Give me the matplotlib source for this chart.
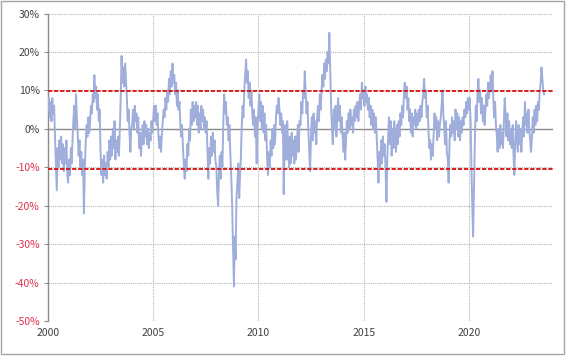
import numpy as np
import pandas as pd
import matplotlib
matplotlib.use("Agg")
import matplotlib.pyplot as plt
import matplotlib.dates as mdates
from matplotlib.patches import Rectangle
from matplotlib.ticker import FuncFormatter
from datetime import datetime

plt.rcParams['font.family'] = ['Noto Sans CJK JP', 'DejaVu Sans']

# values (%), two points per month
r2000_2003 = [
    5, 8, 3, 7, 2, 8, 4, 6, -2, -8, -16, -5, -10, -3, -8, -2, -9, -4, -11, -5, -9, -3, -12, -14,
    -8, -12, -5, -9, -3, 2, 6, 0, 9, 3, -2, -7, -3, -10, -6, -12, -8, -22, -10, -4, 1, -2, 3, -1,
    2, 6, 4, 9, 7, 14, 8, 11, 5, 9, 2, 5, -6, -12, -8, -14, -7, -12, -9, -13, -6, -10, -3, -8,
    -2, -7, 0, -5, 2, -8, -3, -6, -2, -7, 0, 8, 19, 12, 16, 11, 17, 13, 8, 2, 5, -1, -6, 0,
]
r2004_2007 = [
    1, 5, 0, 6, 2, 4, -1, 3, -5, -1, -7, -3, 1, -4, 2, -2, 1, -4, 0, -5, -1, -3, 2, -1,
    3, 6, 2, 6, 1, 4, -2, -5, -2, -6, -1, 2, 5, 3, 8, 5, 10, 7, 13, 9, 15, 11, 17, 12,
    14, 9, 12, 6, 10, 5, 7, 1, -2, 1, -5, -9, -13, -8, -11, -4, -7, 0, -3, 5, 1, 7, 2, 6,
    3, 7, 1, 6, -1, 4, 0, 6, 2, 5, 0, 3, -1, 2, -6, -13, -5, -9, -2, -7, -1, -6, -3, -8,
]
r2008_2011 = [
    -10, -16, -20, -12, -7, -13, -6, -10, 2, 9, 4, 7, 1, 3, -3, 1, -7, -12, -20, -30, -41, -28, -34, -18,
    -14, -9, -18, -12, -8, 0, 6, 3, 10, 14, 18, 12, 15, 8, 12, 6, 10, 4, 1, 5, -2, 3, -9, 1,
    5, 9, 2, 7, 0, 6, -1, 4, -3, 1, -8, -12, -6, -10, -3, -7, 0, -5, 1, -4, 3, 6, 4, 8,
    5, 1, 4, -1, 2, -17, -5, 1, -8, 2, -4, -10, -2, -9, -1, -7, -3, -9, -2, -8, -3, 1, -6, 2,
]
r2012_2015 = [
    1, 7, 4, 10, 8, 15, 9, 4, 7, 0, -6, -11, -2, 3, -3, 4, -1, 2, -4, 3, 6, 2, 9, 5,
    10, 14, 11, 17, 13, 18, 15, 20, 17, 25, 14, 6, 0, -4, 5, 0, 6, -2, 4, 8, 2, 6, -1, 3,
    -2, -6, -1, -8, -3, 2, -1, 4, 0, 5, 1, 3, -1, 5, 2, 6, 3, 7, 2, 6, 9, 5, 12, 8,
    10, 6, 11, 7, 9, 5, 8, 3, 6, 1, 5, 0, 4, -1, 3, -2, -8, -14, -6, -10, -3, -9, -2, -7,
]
r2016_2019 = [
    -4, -10, -19, -8, -2, 3, -4, 2, -7, 0, -5, 2, -3, -6, 1, -4, 2, -2, 4, 1, 6, 3, 9, 12,
    8, 11, 5, 8, 2, 5, -1, 4, -2, 3, 1, 5, 0, 4, 1, 5, 2, 6, 3, 7, 9, 13, 8, 10,
    3, 6, -1, -5, -3, -8, -4, -7, -1, 4, 0, 3, -3, 2, -2, 1, 3, 6, 10, 4, 0, -4, 2, -6,
    -8, -14, -3, 1, -2, 3, -1, 2, -3, 5, 0, 4, -2, 3, -3, 2, -1, 3, 1, 5, 3, 7, 4, 8,
]
r2020_2023 = [
    5, 8, 2, -10, -20, -28, -15, -3, 6, 2, 10, 13, 7, 10, 4, 8, 2, 6, 1, 5, 9, 6, 12, 8,
    11, 14, 10, 15, 8, 3, 7, 1, -2, -6, 0, -5, 1, -4, -1, -5, 2, 8, 3, -2, 4, -3, 2, -4,
    0, -5, 1, -7, -12, -4, 2, -3, -6, 1, -4, 0, -6, -1, 3, -2, 7, 1, 4, -1, 5, 0, -3, -6,
    -2, 3, -1, 5, 1, 6, 2, 7, 5, 10, 12, 16, 13, 10, 9,
]

upper_band = 9.9
lower_band = -10.4
y_ticks = [-50, -40, -30, -20, -10, 0, 10, 20, 30]
x_tick_years = [2000, 2005, 2010, 2015, 2020]

values = np.array(r2000_2003 + r2004_2007 + r2008_2011 + r2012_2015 + r2016_2019 + r2020_2023)
dates = pd.date_range("2000-01-01", periods=len(values), freq="SMS")

fig = plt.figure(figsize=(5.67, 3.56), dpi=100)
ax = fig.add_axes([0.0847, 0.0983, 0.8906, 0.8637])

ax.plot(dates, values, color="#a0aedb", linewidth=1.4, zorder=3)

ax.axhline(upper_band, color="#d81e1e", linewidth=1.4, linestyle=(0, (2.2, 0.9)), zorder=4)
ax.axhline(lower_band, color="#d81e1e", linewidth=1.4, linestyle=(0, (2.2, 0.9)), zorder=4)
ax.axhline(0, color="#8c8c8c", linewidth=1.0, zorder=2)

ax.set_ylim(-50, 30)
ax.set_yticks(y_ticks)
ax.yaxis.set_major_formatter(FuncFormatter(lambda v, p: f"{int(v)}%"))

ax.set_xlim(datetime(2000, 1, 1), datetime(2024, 1, 1))
ax.set_xticks([datetime(y, 1, 1) for y in x_tick_years])
ax.xaxis.set_major_formatter(mdates.DateFormatter("%Y"))

ax.grid(True, linestyle=(0, (1, 1)), color="#b4b4b4", linewidth=0.8, zorder=1)
ax.set_axisbelow(True)

for side in ["top", "right", "bottom"]:
    ax.spines[side].set_visible(False)
ax.spines["left"].set_color("#8c8c8c")
ax.spines["left"].set_linewidth(1.0)

ax.tick_params(axis="y", length=3, color="#8c8c8c", labelsize=7.5, pad=3)
ax.tick_params(axis="x", length=0, labelsize=7.5, pad=5, labelcolor="#404040")

for lab, v in zip(ax.get_yticklabels(), y_ticks):
    lab.set_color("#e0304e" if v < 0 else "#404040")

fig.patches.append(Rectangle((0.001, 0.006), 0.994, 0.992, transform=fig.transFigure,
                             fill=False, edgecolor="#a6a6a6", linewidth=1.0))

fig.savefig("out.png", dpi=100)
